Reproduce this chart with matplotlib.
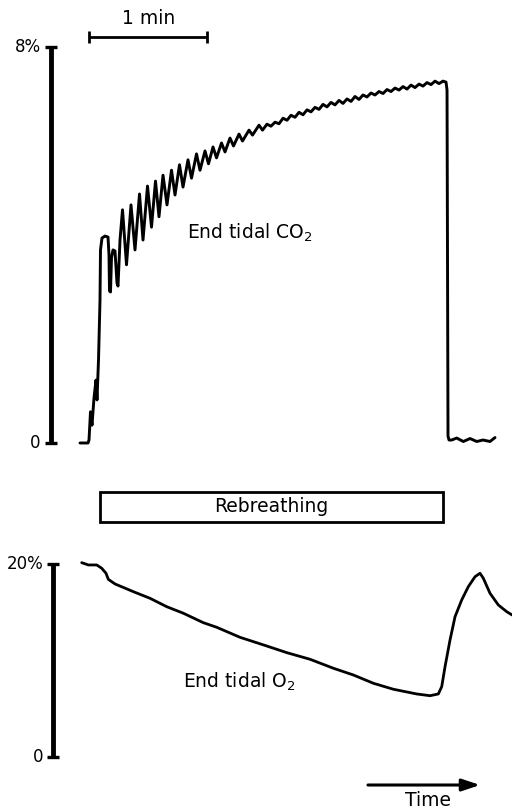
import matplotlib
matplotlib.use("Agg")
import matplotlib.pyplot as plt
from matplotlib.patches import Rectangle

plt.rcParams['font.family'] = ['DejaVu Sans']
plt.rcParams['mathtext.fontset'] = 'dejavusans'

# ---- data: time in seconds, gas in % ----
co2_t = [0, 4.07, 4.58, 5.34, 6.10, 7.12, 8.13, 8.64, 9.41, 10.17, 10.42, 11.18, 12.71, 14.24,
         14.74, 15.00, 15.51, 16.01, 16.78, 17.79, 18.81, 19.32, 20.34, 21.61, 23.64, 25.93,
         27.96, 30.25, 32.03, 34.32, 36.35, 38.38, 40.16, 42.20, 44.23, 46.52, 48.30, 50.59,
         52.37, 54.91, 56.69, 59.23, 61.01, 63.55, 65.33, 67.62, 69.40, 71.94, 73.72, 76.26,
         78.04, 80.84, 82.62, 85.92, 87.70, 91.00, 92.78,
         95.07, 97.10, 99.14, 101.17, 103.21, 105.24, 107.27, 109.31, 111.34, 113.37, 115.41,
         117.44, 119.47, 121.51, 123.54, 125.57, 127.61, 129.64, 131.68, 133.71, 135.74, 137.78,
         139.81, 141.84, 143.88, 145.91, 147.94, 149.98, 152.01, 154.05, 156.08, 158.11, 160.15,
         162.18, 164.21, 166.25, 168.28, 170.31, 172.35, 174.38, 176.41, 178.45, 180.48, 182.51,
         184.55, 186.08, 186.59, 187.09, 187.60, 188.97, 191.51, 194.87, 198.28, 201.68, 204.88,
         208.44, 210.98]
co2_v = [0, 0, 0.06, 0.63, 0.36, 0.91, 1.27, 0.87, 1.68, 2.89, 3.90, 4.14, 4.18, 4.16,
         3.80, 3.07, 3.05, 3.74, 3.90, 3.88, 3.23, 3.17, 4.10, 4.71, 3.60, 4.81,
         3.90, 5.03, 4.10, 5.19, 4.36, 5.29, 4.57, 5.41, 4.81, 5.51, 5.01, 5.62,
         5.17, 5.72, 5.35, 5.84, 5.51, 5.90, 5.64, 5.98, 5.76, 6.06, 5.88, 6.16,
         6.00, 6.24, 6.10, 6.32, 6.22, 6.42, 6.32,
         6.44, 6.40, 6.48, 6.45, 6.56, 6.52, 6.62, 6.58, 6.68, 6.63, 6.73,
         6.69, 6.78, 6.74, 6.84, 6.79, 6.88, 6.83, 6.92, 6.86, 6.95, 6.90,
         7.00, 6.94, 7.03, 6.99, 7.07, 7.03, 7.10, 7.06, 7.14, 7.10, 7.17,
         7.13, 7.20, 7.15, 7.23, 7.18, 7.25, 7.21, 7.28, 7.24, 7.31, 7.26,
         7.31, 7.29, 7.13, 0.14, 0.06, 0.06, 0.10, 0.03, 0.09, 0.03, 0.06,
         0.03, 0.11]

o2_t = [0.86, 4.22, 8.49, 11.03, 13.22, 14.39, 17.79, 27.10, 35.59, 44.08, 52.52, 62.69,
        69.51, 81.35, 94.93, 105.10, 116.95, 128.80, 138.97, 149.14, 159.29, 171.18, 177.94,
        182.16, 183.89, 185.57, 188.11, 190.66, 194.06, 197.42, 200.82, 203.36, 205.04,
        208.44, 212.66, 216.93, 219.63]
o2_v = [20.14, 19.90, 19.90, 19.56, 19.04, 18.41, 17.93, 17.13, 16.44, 15.57, 14.89, 13.91,
        13.43, 12.39, 11.49, 10.80, 10.11, 9.18, 8.48, 7.62, 7.00, 6.51, 6.33,
        6.51, 7.27, 9.34, 12.11, 14.53, 16.27, 17.65, 18.68, 19.04, 18.52,
        16.96, 15.75, 15.05, 14.71]

co2_ticks = [0, 8]
co2_ticklabels = ["0", "8%"]
o2_ticks = [0, 20]
o2_ticklabels = ["0", "20%"]
rebreathing = [10.17, 184.7]       # start, end (s)
scalebar = [4.73, 64.73]           # 1 min
co2_label = "End tidal CO$_2$"
o2_label = "End tidal O$_2$"

# ---- figure ----
fig = plt.figure(figsize=(5.12, 8.09), dpi=100)
ax1 = fig.add_axes([0, 0, 1, 1])
ax2 = fig.add_axes([0, 0, 1, 1])
for ax in (ax1, ax2):
    ax.set_xlim(-40.67, 219.62)
    ax.axis('off')
    ax.patch.set_alpha(0)
ax1.set_ylim(-7.394, 8.949)
ax2.set_ylim(-5.43, 78.54)

FS = 13.5

# CO2 panel
ax1.plot(co2_t, co2_v, color='black', lw=2.1, solid_joinstyle='round', solid_capstyle='round')
x_ax1 = -14.74
ax1.plot([x_ax1, x_ax1], [co2_ticks[0], co2_ticks[1]], color='black', lw=3.5, solid_capstyle='butt')
for tv, tl in zip(co2_ticks, co2_ticklabels):
    ax1.plot([x_ax1 - 3.3, x_ax1 + 3.0], [tv, tv], color='black', lw=2.4, solid_capstyle='butt')
    ax1.text(x_ax1 - 5.3, tv, tl, ha='right', va='center', fontsize=12)
ax1.text(54.4, 4.24, co2_label, ha='left', va='center', fontsize=FS)

# scale bar
ax1.plot(scalebar, [8.21, 8.21], color='black', lw=2.0, solid_capstyle='butt')
for sx in scalebar:
    ax1.plot([sx, sx], [8.09, 8.33], color='black', lw=2.0, solid_capstyle='butt')
ax1.text((scalebar[0] + scalebar[1]) / 2, 8.57, "1 min", ha='center', va='center', fontsize=FS)

# rebreathing box
ax1.add_patch(Rectangle((rebreathing[0], -1.59), rebreathing[1] - rebreathing[0], 0.59,
                        fill=False, edgecolor='black', lw=2.0))
ax1.text((rebreathing[0] + rebreathing[1]) / 2, -1.29, "Rebreathing", ha='center', va='center',
         fontsize=FS)

# O2 panel
ax2.plot(o2_t, o2_v, color='black', lw=2.0, solid_joinstyle='round', solid_capstyle='round')
x_ax2 = -13.73
ax2.plot([x_ax2, x_ax2], [o2_ticks[0], o2_ticks[1]], color='black', lw=3.5, solid_capstyle='butt')
for tv, tl in zip(o2_ticks, o2_ticklabels):
    ax2.plot([x_ax2 - 3.0, x_ax2 + 3.3], [tv, tv], color='black', lw=2.4, solid_capstyle='butt')
    ax2.text(x_ax2 - 5.0, tv, tl, ha='right', va='center', fontsize=12)
ax2.text(52.4, 7.75, o2_label, ha='left', va='center', fontsize=FS)

# time arrow
ax2.annotate('', xy=(203.4, -2.94), xytext=(146.4, -2.94),
             arrowprops=dict(arrowstyle='-|>,head_length=0.9,head_width=0.3', lw=2.2,
                             color='black', mutation_scale=12, shrinkA=0, shrinkB=0))
ax2.text(176.9, -5.15, "Time", ha='center', va='baseline', fontsize=FS)

fig.savefig('out.png', dpi=100)
